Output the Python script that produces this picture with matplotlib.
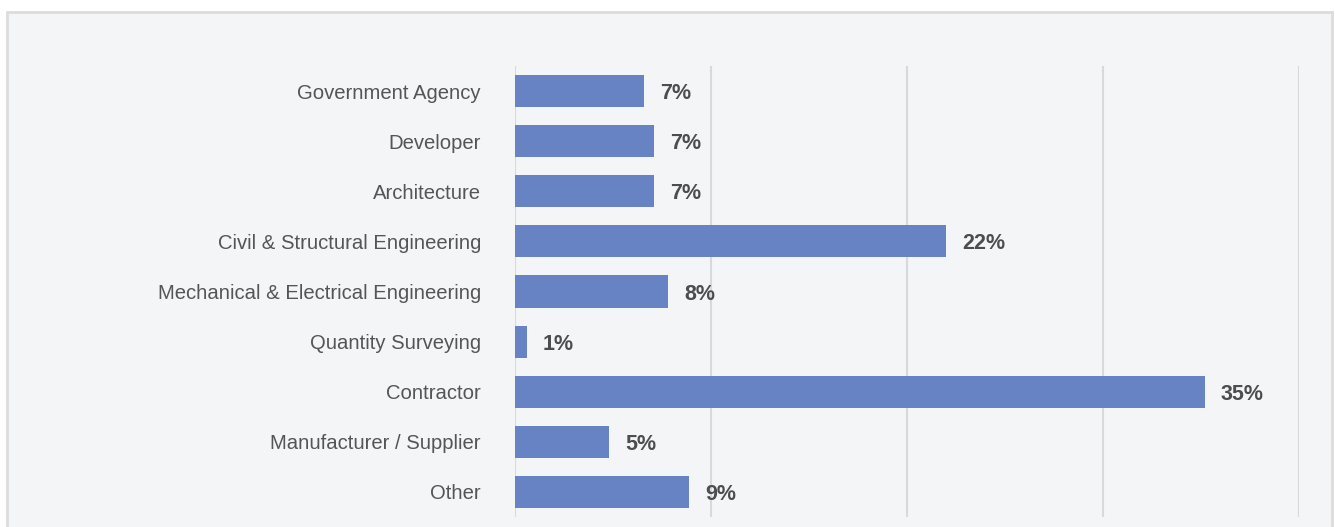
import matplotlib.pyplot as plt
from matplotlib.patches import Rectangle

categories = ["Government Agency", "Developer", "Architecture",
              "Civil & Structural Engineering",
              "Mechanical & Electrical Engineering", "Quantity Surveying",
              "Contractor", "Manufacturer / Supplier", "Other"]
shares = [6.6, 7.1, 7.1, 22.0, 7.8, 0.6, 35.2, 4.8, 8.9]
xticks = [0, 10, 20, 30, 40]

plt.rcParams['font.family'] = ['Liberation Sans', 'DejaVu Sans']

fig = plt.figure(figsize=(13.35, 5.27), dpi=100)
fig.patch.set_facecolor('white')

# light panel behind the chart
panel = Rectangle((7 / 1335, -0.02), 1325 / 1335, 1 - 12 / 527 + 0.02,
                  transform=fig.transFigure, facecolor='#f4f5f7',
                  edgecolor='#dcdcdc', linewidth=2, zorder=-10)
fig.add_artist(panel)

ax = fig.add_axes([515 / 1335, 10 / 527, 784 / 1335, 451 / 527])
ax.set_facecolor('none')

y = range(len(categories))
ax.barh(y, shares, height=0.64, color='#6783c3', zorder=3)

for yi, v in zip(y, shares):
    ax.text(v + 0.82, yi, f"{v:.0f}%", va='center_baseline', ha='left',
            fontsize=15.5, fontweight='bold', color='#4d4d4d')

ax.set_xlim(0, 40)
ax.set_ylim(len(categories) - 0.5, -0.5)
ax.set_xticks(xticks)
ax.set_xticklabels([])
ax.set_yticks(list(y))
ax.set_yticklabels(categories, fontsize=14.6, color='#555555',
                   va='center_baseline')
ax.tick_params(axis='y', length=0, pad=24.5)
ax.tick_params(axis='x', length=0)
ax.grid(axis='x', color='#d9d9d9', linewidth=1.5, zorder=0)
for s in ax.spines.values():
    s.set_visible(False)

fig.savefig('out.png', dpi=100)
